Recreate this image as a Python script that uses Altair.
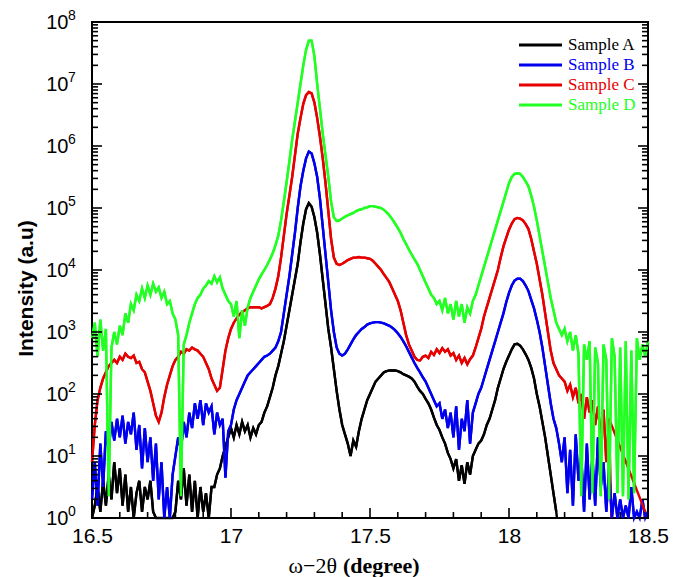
import altair as alt
import pandas as pd

# omega-2theta scan positions (degree), 0.01 deg step
two_theta = [round(16.5 + 0.01 * i, 2) for i in range(201)]

# log10(intensity), one value per scan position
log_A = [
    0.0, 0.2, 0.5, 0.1, 0.6, 0.2, 0.7, 0.3, 0.9, 0.4,
    0.8, 0.2, 0.7, 0.1, 0.5, 0.0, 0.4, 0.6, 0.1, 0.5,
    0.3, 0.6, 0.1, 0.0, -0.3, 0.0, -0.3, 0.0, -0.3, 0.0,
    0.1, 0.6, 0.3, 0.8, 0.2, 0.7, 0.1, 0.6, 0.0, 0.5,
    0.1, 0.4, 0.0, 0.5, 0.5, 0.7, 0.8, 1.0, 1.15, 1.3,
    1.45, 1.3, 1.5, 1.35, 1.55, 1.4, 1.5, 1.3, 1.45, 1.35,
    1.5, 1.55, 1.7, 1.8, 1.95, 2.1, 2.3, 2.45, 2.65, 2.85,
    3.1, 3.35, 3.6, 3.85, 4.1, 4.45, 4.75, 4.98, 5.08, 5.02,
    4.85, 4.6, 4.25, 3.85, 3.45, 3.05, 2.75, 2.4, 2.05, 1.75,
    1.5, 1.35, 1.2, 1.0, 1.25, 1.15, 1.4, 1.6, 1.75, 1.9,
    2.0, 2.1, 2.2, 2.25, 2.3, 2.35, 2.37, 2.38, 2.38, 2.38,
    2.37, 2.35, 2.32, 2.3, 2.28, 2.25, 2.2, 2.12, 2.05, 2.0,
    1.92, 1.85, 1.75, 1.62, 1.5, 1.42, 1.3, 1.2, 1.05, 0.95,
    0.8, 0.95, 0.6, 0.85, 0.55, 0.9, 0.7, 1.0, 1.1, 1.2,
    1.25, 1.35, 1.5, 1.6, 1.75, 1.9, 2.1, 2.25, 2.4, 2.52,
    2.62, 2.72, 2.8, 2.81, 2.78, 2.72, 2.64, 2.55, 2.42, 2.25,
    2.0, 1.8, 1.55, 1.3, 1.0, 0.7, 0.4, 0.1, -0.3, -0.3,
    -0.3, -0.3, -0.3, -0.3, -0.3, -0.3, -0.3, -0.3, -0.3, -0.3,
    -0.3, -0.3, -0.3, -0.3, -0.3, -0.3, -0.3, -0.3, -0.3, -0.3,
    -0.3, -0.3, -0.3, -0.3, -0.3, -0.3, -0.3, -0.3, -0.3, -0.3,
    -0.3,
]
log_B = [
    0.3, 0.9, 0.2, 1.2, 0.5, 1.4, 1.1, 1.55, 1.25, 1.6,
    1.3, 1.65, 1.2, 1.55, 1.35, 1.7, 1.1, 1.5, 0.8, 1.45,
    0.9, 1.3, 0.6, 1.2, 0.3, 0.9, 0.0, 0.5, 0.0, 0.7,
    1.0, 1.3, 1.1, 1.55, 1.3, 1.7, 1.45, 1.85, 1.6, 1.9,
    1.5, 1.85, 1.7, 1.8, 1.35, 1.7, 1.5, 1.6, 0.65, 1.4,
    1.5, 1.75, 1.9, 2.0, 2.1, 2.2, 2.3, 2.35, 2.4, 2.45,
    2.5, 2.55, 2.6, 2.62, 2.65, 2.7, 2.75, 2.85, 3.0, 3.3,
    3.6, 3.9, 4.25, 4.6, 5.0, 5.35, 5.6, 5.8, 5.91, 5.88,
    5.72, 5.5, 5.15, 4.7, 4.25, 3.8, 3.35, 3.0, 2.75, 2.65,
    2.62, 2.65, 2.72, 2.8, 2.88, 2.95, 3.0, 3.05, 3.08, 3.12,
    3.14, 3.15, 3.16, 3.16, 3.15, 3.14, 3.12, 3.1, 3.07, 3.03,
    2.98, 2.92, 2.85, 2.77, 2.68, 2.59, 2.5, 2.42, 2.35, 2.27,
    2.2, 2.1, 2.0, 1.9, 1.8, 1.85, 1.6, 1.75, 1.45, 1.7,
    1.3, 1.8, 1.1, 1.6, 1.4, 1.9, 1.2, 1.7, 1.85, 2.0,
    2.1, 2.25, 2.4, 2.55, 2.7, 2.85, 3.0, 3.15, 3.3, 3.48,
    3.63, 3.75, 3.83, 3.86, 3.86, 3.82, 3.75, 3.66, 3.52, 3.38,
    3.2, 3.0, 2.75, 2.45, 2.15, 1.85, 1.6, 1.45, 1.2, 0.9,
    1.3, 0.4, 1.1, 0.2, 1.35, 0.6, 1.0, 0.1, 1.2, 0.3,
    1.0, 0.2, 1.3, 0.5, 0.9, 0.1, 0.8, 0.0, 0.4, 0.0,
    0.3, 0.0, 0.2, 0.0, 0.5, 0.0, 0.1, 0.0, 0.3, 0.0,
    0.1,
]
log_C = [
    0.9, 1.5, 1.9, 2.1, 2.25, 2.35, 2.45, 2.5, 2.55, 2.5,
    2.6, 2.55, 2.65, 2.6, 2.58, 2.62, 2.5, 2.52, 2.4, 2.35,
    2.2, 2.05, 1.85, 1.65, 1.55, 1.7, 1.95, 2.15, 2.3, 2.45,
    2.55, 2.6, 2.68, 2.65, 2.72, 2.7, 2.75, 2.72, 2.7, 2.65,
    2.6, 2.5, 2.4, 2.25, 2.15, 2.05, 2.1, 2.4, 2.7, 2.9,
    3.05, 3.15, 3.22, 3.28, 3.32, 3.35, 3.38, 3.4, 3.4, 3.4,
    3.4, 3.38, 3.4, 3.42, 3.45, 3.55, 3.7, 3.9, 4.2, 4.55,
    4.9, 5.2, 5.5, 5.85, 6.2, 6.45, 6.68, 6.82, 6.87, 6.85,
    6.7, 6.45, 6.15, 5.8, 5.4, 4.95, 4.5, 4.2, 4.1, 4.08,
    4.1, 4.13, 4.16, 4.18, 4.2, 4.2, 4.21, 4.2, 4.2, 4.19,
    4.18, 4.15, 4.1, 4.05, 4.0, 3.93, 3.87, 3.8, 3.7, 3.6,
    3.5, 3.35, 3.15, 2.95, 2.8, 2.7, 2.6, 2.55, 2.54, 2.6,
    2.62, 2.58, 2.68, 2.63, 2.72, 2.66, 2.74, 2.68, 2.72, 2.62,
    2.66, 2.55, 2.62, 2.5, 2.58, 2.48, 2.56, 2.62, 2.75, 2.9,
    3.05, 3.25, 3.4, 3.55, 3.7, 3.85, 4.0, 4.2, 4.38, 4.52,
    4.65, 4.75, 4.82, 4.84, 4.83, 4.8, 4.74, 4.66, 4.5, 4.3,
    4.1, 3.85, 3.6, 3.3, 3.0, 2.7, 2.5, 2.4, 2.3, 2.25,
    2.2, 2.05, 2.15, 1.95, 2.1, 1.85, 2.0, 1.6, 1.95, 1.7,
    1.9, 1.5, 1.8, 1.3, 1.75, 0.9, 1.6, -0.3, -0.3, -0.3,
    -0.3, -0.3, -0.3, -0.3, -0.3, -0.3, -0.3, -0.3, -0.3, 0.1,
    -0.3,
]
log_D = [
    2.9, 3.15, 2.6, 3.2, 2.7, 3.05, 0.35, 2.75, 3.0, 2.8,
    3.1, 2.95, 3.3, 3.15, 3.45, 3.35, 3.6, 3.5, 3.7, 3.55,
    3.75, 3.6, 3.78, 3.65, 3.72, 3.55, 3.65, 3.45, 3.5, 3.3,
    3.2, 2.95, 0.35, 2.8, 2.95, 3.15, 3.3, 3.45, 3.55, 3.6,
    3.7, 3.75, 3.82, 3.78, 3.9, 3.8, 3.88, 3.7, 3.6, 3.5,
    3.45, 3.25, 3.5, 2.9, 3.35, 3.1, 3.4, 3.55, 3.65, 3.75,
    3.85, 3.93, 4.0, 4.08, 4.17, 4.27, 4.4, 4.55, 4.8, 5.1,
    5.42, 5.75, 6.1, 6.4, 6.7, 7.0, 7.3, 7.55, 7.7, 7.7,
    7.45, 7.0, 6.6, 6.2, 5.85, 5.5, 5.1, 4.85, 4.79, 4.8,
    4.83, 4.86, 4.88, 4.9, 4.92, 4.95, 4.97, 4.98, 5.0, 5.01,
    5.03, 5.03, 5.02, 5.01, 5.0, 4.97, 4.93, 4.88, 4.82, 4.75,
    4.68, 4.6, 4.5, 4.42, 4.33, 4.25, 4.17, 4.1, 4.0, 3.9,
    3.8, 3.7, 3.6, 3.55, 3.45, 3.5, 3.35, 3.55, 3.3, 3.45,
    3.2, 3.5, 3.25, 3.45, 3.15, 3.4, 3.3, 3.5, 3.6, 3.75,
    3.9, 4.05, 4.2, 4.35, 4.5, 4.65, 4.8, 4.95, 5.1, 5.25,
    5.4, 5.5, 5.55, 5.56, 5.55, 5.5, 5.43, 5.35, 5.2, 5.02,
    4.8, 4.55, 4.3, 4.05, 3.8, 3.55, 3.35, 3.15, 3.05, 2.95,
    3.05, 2.85, 3.0, 2.7, 2.95, 2.65, 0.35, 2.8, 2.55, 2.85,
    0.4, 2.75, 2.5, 0.35, 2.8, 2.55, 0.3, 2.9, 2.6, 0.4,
    2.75, 0.35, 2.85, 0.3, 2.7, 0.4, 2.9, 2.55, 2.8, 2.6,
    2.85,
]

names = ["Sample A", "Sample B", "Sample C", "Sample D"]
colors = ["#000000", "#0000ee", "#e60000", "#22ff22"]

x_major = [16.5, 17.0, 17.5, 18.0, 18.5]
x_minor = [16.6, 16.7, 16.8, 16.9, 17.1, 17.2, 17.3, 17.4, 17.6, 17.7, 17.8, 17.9,
           18.1, 18.2, 18.3, 18.4]
y_major = [1, 10, 100, 1000, 10**4, 10**5, 10**6, 10**7, 10**8]
y_minor = [m * 10**k for k in range(8) for m in range(2, 10)]
exps = ["0", "1", "2", "3", "4", "5", "6", "7", "8"]

W, H = 556, 496
sans = "Liberation Sans"
serif = "Liberation Serif"
X0, X1 = 16.5, 18.5
px_per_deg = W / (X1 - X0)
px_per_decade = H / 8.0

records = []
for name, logs in zip(names, [log_A, log_B, log_C, log_D]):
    for t, v in zip(two_theta, logs):
        records.append({"t": t, "I": 10 ** v, "sample": name, "seg": name, "w": 2.4})

# tick segments ride in the same line layer, one short segment per tick
MAJ, MIN = 10, 6
tid = 0
for vals, ln in ((x_major, MAJ), (x_minor, MIN)):
    for v in vals:
        seg = f"tick{tid}"
        records.append({"t": v, "I": 1.0, "sample": "tick", "seg": seg, "w": 1.6})
        records.append({"t": v, "I": 10 ** (ln / px_per_decade), "sample": "tick", "seg": seg, "w": 1.6})
        tid += 1
for vals, ln in ((y_major, MAJ), (y_minor, MIN)):
    for v in vals:
        seg = f"tick{tid}"
        records.append({"t": X0, "I": v, "sample": "tick", "seg": seg, "w": 1.6})
        records.append({"t": X0 + ln / px_per_deg, "I": v, "sample": "tick", "seg": seg, "w": 1.6})
        tid += 1
        seg = f"tick{tid}"
        records.append({"t": X1 - ln / px_per_deg, "I": v, "sample": "tick", "seg": seg, "w": 1.6})
        records.append({"t": X1, "I": v, "sample": "tick", "seg": seg, "w": 1.6})
        tid += 1
df = pd.DataFrame(records)

x_scale = alt.Scale(domain=[X0, X1], nice=False, zero=False)
y_scale = alt.Scale(type="log", domain=[1, 1e8], nice=False)
color_scale = alt.Scale(domain=names + ["tick"], range=colors + ["#000000"])

lines = alt.Chart(df).mark_line(clip=False).encode(
    x=alt.X("t:Q", scale=x_scale, axis=alt.Axis(
        values=x_major, labelExpr="'' + datum.value", ticks=False, tickSize=0,
        domain=False, grid=False, labelFont=sans, labelFontSize=21, labelColor="black",
        labelPadding=7, labelFlush=False, labelOverlap=False, title=None)),
    y=alt.Y("I:Q", scale=y_scale, axis=alt.Axis(
        values=y_major, labelExpr="'10'", ticks=False, tickSize=0, domain=False, grid=False,
        labelFont=sans, labelFontSize=20, labelColor="black", labelPadding=24,
        labelBaseline="middle", labelOverlap=False,
        title="Intensity (a.u)", titleFont=sans, titleFontSize=21, titleFontWeight="bold",
        titleColor="black", titleAngle=270, titleX=-66, titleY=266,
        titleAlign="center", titleBaseline="middle")),
    color=alt.Color("sample:N", scale=color_scale, legend=None),
    detail="seg:N",
    strokeWidth=alt.StrokeWidth("w:Q", scale=None),
).transform_filter(
    "datum.I >= 1"
)

# points below 1 (off the bottom of the plot) drawn clipped in a separate line layer
low = alt.Chart(df).mark_line(clip=True, strokeWidth=2.4).encode(
    x=alt.X("t:Q", scale=x_scale), y=alt.Y("I:Q", scale=y_scale),
    color=alt.Color("sample:N", scale=color_scale, legend=None),
    detail="seg:N",
).transform_filter("datum.sample != 'tick'")

exp_df = pd.DataFrame({"I": y_major, "e": exps})
exponents = alt.Chart(exp_df).mark_text(font=sans, fontSize=14, color="black", align="left",
                                        baseline="middle", dy=-6).encode(
    y=alt.Y("I:Q"), x=alt.value(-24), text="e:N")

leg_rows = [23, 43, 63, 83]
legend_layers = []
for name, col, yy in zip(names, colors, leg_rows):
    one = pd.DataFrame({"sample": [name]})
    legend_layers.append(alt.Chart(one).mark_rule(strokeWidth=3, color=col).encode(
        x=alt.value(427), x2=alt.value(470), y=alt.value(yy)))
    legend_layers.append(alt.Chart(one).mark_text(
        font=serif, fontSize=17, align="left", baseline="middle", color=col).encode(
        x=alt.value(476), y=alt.value(yy), text="sample:N"))

title_df = pd.DataFrame({"a": ["ω−2θ"], "b": ["(degree)"]})
xt1 = alt.Chart(title_df).mark_text(font=serif, fontSize=22, align="right",
                                    baseline="alphabetic", color="black").encode(
    x=alt.value(245), y=alt.value(551), text="a:N")
xt2 = alt.Chart(title_df).mark_text(font=serif, fontSize=22, fontWeight="bold",
                                    align="left", baseline="alphabetic", color="black").encode(
    x=alt.value(251), y=alt.value(551), text="b:N")

chart = alt.layer(low, lines, exponents, *legend_layers, xt1, xt2).properties(
    width=W, height=H, autosize="none",
    padding={"left": 84, "top": 14, "right": 32, "bottom": 59},
).configure_view(stroke="black", strokeWidth=2)

chart.save("out.html", embed_options={"renderer": "svg", "actions": False})
